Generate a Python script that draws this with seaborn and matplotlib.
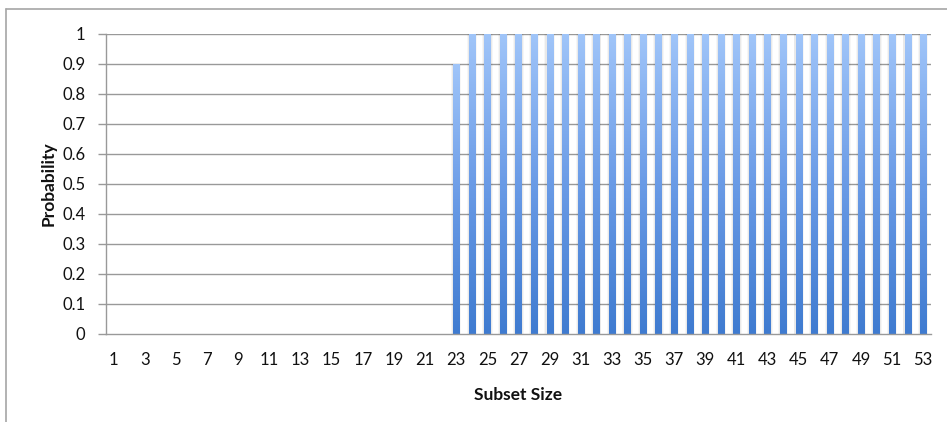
import numpy as np
import pandas as pd
import matplotlib
matplotlib.use("Agg")
import matplotlib.pyplot as plt
import seaborn as sns
from matplotlib.colors import LinearSegmentedColormap
from matplotlib.lines import Line2D

# Probability that a subset of the given size meets the target
subset_sizes = list(range(1, 54))
probabilities = [0.0] * 22 + [0.9] + [1.0] * 30
y_ticks = [0, 0.1, 0.2, 0.3, 0.4, 0.5, 0.6, 0.7, 0.8, 0.9, 1]
y_tick_labels = ["0", "0.1", "0.2", "0.3", "0.4", "0.5", "0.6", "0.7", "0.8", "0.9", "1"]

df = pd.DataFrame({"Subset Size": [str(s) for s in subset_sizes],
                   "Probability": probabilities})

sns.set_theme(style="white")
plt.rcParams["font.family"] = ["Lato", "DejaVu Sans"]

fig = plt.figure(figsize=(9.47, 4.22), dpi=100)
ax = fig.add_axes([106 / 947, 1 - 334 / 422, (931 - 106) / 947, 300 / 422])

grid_c = "#999999"
for v in y_ticks[1:]:
    ax.axhline(v, color=grid_c, lw=1.0, zorder=0.5)

# soft drop shadow behind the bars
for w, a in [(0.66, 0.035), (0.54, 0.05)]:
    sns.barplot(data=df, x="Subset Size", y="Probability", ax=ax,
                width=w, color="black", alpha=a, saturation=1,
                linewidth=0, errorbar=None, zorder=1)

n_before = len(ax.patches)
sns.barplot(data=df, x="Subset Size", y="Probability", ax=ax,
            width=0.4, color="#6a9be6", saturation=1,
            linewidth=0, errorbar=None, zorder=2)

# vertical gradient fill, light at top to deeper blue at bottom
cmap = LinearSegmentedColormap.from_list("bar", ["#3f7bd0", "#6a9be6", "#a0c5f9"])
grad = np.linspace(0, 1, 256).reshape(-1, 1)
for p in ax.patches[n_before:]:
    h = p.get_height()
    if h <= 0:
        continue
    x0 = p.get_x()
    x1 = x0 + p.get_width()
    im = ax.imshow(grad, cmap=cmap, origin="lower", aspect="auto",
                   extent=[x0, x1, 0, h], zorder=2.5, interpolation="bicubic")
    im.set_clip_path(p)

ax.set_xlim(-0.5, len(subset_sizes) - 0.5)
ax.set_ylim(0, 1)

ax.set_yticks(y_ticks)
ax.set_yticklabels(y_tick_labels)
ax.set_xticks(range(0, len(subset_sizes), 2))
ax.set_xticklabels([str(s) for s in subset_sizes[::2]])

fs = 12
ax.tick_params(axis="y", which="both", length=6, width=1, color=grid_c,
               direction="out", pad=9, labelsize=fs, labelcolor="#111111", left=True)
ax.tick_params(axis="x", length=0, pad=13, labelsize=fs, labelcolor="#111111")

for side in ["top", "right"]:
    ax.spines[side].set_visible(False)
for side in ["left", "bottom"]:
    ax.spines[side].set_color(grid_c)
    ax.spines[side].set_linewidth(1.0)
    ax.spines[side].set_zorder(3)

ax.set_xlabel("Subset Size", fontsize=12.5, fontweight="bold", labelpad=14, color="#111111")
ax.set_ylabel("Probability", fontsize=12.5, fontweight="bold", labelpad=4, color="#111111")
ax.set_facecolor("white")

# outer chart border (left and top edges)
border_c = "#a6a6a6"
fig.add_artist(Line2D([6 / 947, 6 / 947], [0, 1 - 9 / 422], transform=fig.transFigure,
                      color=border_c, lw=1.2))
fig.add_artist(Line2D([6 / 947, 1], [1 - 9 / 422, 1 - 9 / 422], transform=fig.transFigure,
                      color=border_c, lw=1.2))

fig.savefig("out.png", dpi=100)
